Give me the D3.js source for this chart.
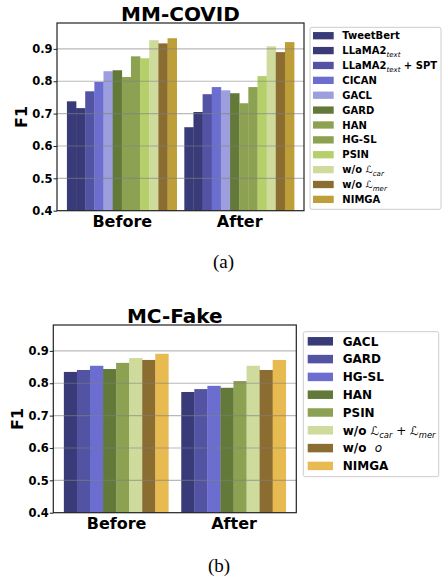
<!DOCTYPE html>
<html><head><meta charset="utf-8">
<script src="https://cdn.jsdelivr.net/npm/d3@7"></script>
<style>
html,body{margin:0;padding:0;background:#fff;}
svg{display:block;font-family:"DejaVu Sans",sans-serif;}
text{white-space:pre;}
</style></head>
<body>
<svg id="chart" width="442" height="580"></svg>
<script>
// ---------- data ----------
const groups = ["Before", "After"];
const yTicks = [0.4, 0.5, 0.6, 0.7, 0.8, 0.9];

// (a) MM-COVID
const mmMethods = ["TweetBert", "LLaMA2$_{text}$", "LLaMA2$_{text}$ + SPT", "CICAN", "GACL", "GARD", "HAN", "HG-SL", "PSIN", "w/o $ℒ_{car}$", "w/o $ℒ_{mer}$", "NIMGA"];
const mmColors = ["#393b79", "#393b79", "#5254a3", "#6b6ecf", "#9c9ede", "#637939", "#8ca252", "#8ca252", "#b5cf6b", "#cedb9c", "#8c6d31", "#bd9e39"];
const mmBefore = [0.738, 0.717, 0.769, 0.798, 0.831, 0.834, 0.813, 0.877, 0.871, 0.927, 0.917, 0.933];
const mmAfter  = [0.658, 0.705, 0.760, 0.782, 0.772, 0.763, 0.732, 0.782, 0.816, 0.908, 0.890, 0.921];

// (b) MC-Fake
const mcMethods = ["GACL", "GARD", "HG-SL", "HAN", "PSIN", "w/o $ℒ_{car} + ℒ_{mer}$", "w/o  $o$", "NIMGA"];
const mcColors = ["#393b79", "#5254a3", "#6b6ecf", "#637939", "#8ca252", "#cedb9c", "#8c6d31", "#e7ba52"];
const mcBefore = [0.835, 0.841, 0.854, 0.844, 0.863, 0.878, 0.872, 0.891];
const mcAfter  = [0.773, 0.782, 0.792, 0.786, 0.807, 0.854, 0.841, 0.872];

// ---------- drawing ----------
const svg = d3.select("#chart");

function parseLabel(label) {
  const out = [];
  label.split("$").forEach((part, i) => {
    if (i % 2 === 0) { if (part) out.push({t: part, kind: "bold"}); }
    else {
      const re = /_\{([^}]*)\}|([^_]+)/g; let m;
      while ((m = re.exec(part))) {
        if (m[1] !== undefined) out.push({t: m[1], kind: "sub"});
        else out.push({t: m[2], kind: "math"});
      }
    }
  });
  return out;
}

function richText(sel, label, fs) {
  const segs = parseLabel(label);
  let shifted = false;
  const sh = fs * 0.3;
  segs.forEach(s => {
    const ts = sel.append("tspan").text(s.t);
    if (s.kind === "bold") { ts.attr("font-weight", "bold"); }
    else if (s.kind === "math") { ts.attr("font-weight", "normal").attr("font-style", "italic"); }
    else { ts.attr("font-weight", "normal").attr("font-style", "italic").attr("font-size", fs * 0.7); }
    if (s.kind === "sub" && !shifted) { ts.attr("dy", sh); shifted = true; }
    else if (s.kind !== "sub" && shifted) { ts.attr("dy", -sh); shifted = false; }
  });
}

function panel(cfg) {
  const g = svg.append("g");
  const y = d3.scaleLinear().domain([0.4, 0.98]).range([cfg.y1, cfg.y0]);
  const x = d3.scaleLinear().domain([-cfg.pad, 1 + cfg.pad]).range([cfg.x0, cfg.x1]);
  const n = cfg.methods.length;
  const band = d3.scaleBand().domain(d3.range(n)).range([-cfg.gw / 2, cfg.gw / 2]);
  const bw = x(band.bandwidth()) - x(0);
  const series = [cfg.before, cfg.after];

  groups.forEach((grp, gi) => {
    g.append("g").selectAll("rect").data(series[gi]).join("rect")
      .attr("x", (d, i) => x(gi + band(i)))
      .attr("width", bw + 0.3)
      .attr("y", d => y(d))
      .attr("height", d => y(0.4) - y(d))
      .attr("fill", (d, i) => cfg.colors[i]);
  });

  // grid on top
  g.append("g").selectAll("line").data(yTicks.slice(1)).join("line")
    .attr("x1", cfg.x0).attr("x2", cfg.x1)
    .attr("y1", d => y(d)).attr("y2", d => y(d))
    .attr("stroke", "#808080").attr("stroke-opacity", 0.55).attr("stroke-width", 1.2);

  // y axis
  const ya = g.append("g").attr("transform", `translate(${cfg.x0},0)`)
    .call(d3.axisLeft(y).tickValues(yTicks).tickFormat(d3.format(".1f")).tickSize(3.5).tickPadding(1));
  ya.select(".domain").remove();
  ya.selectAll(".tick line").attr("stroke", "#222").attr("stroke-width", 1);
  ya.selectAll("text").attr("font-size", 11.5).attr("font-weight", "bold").attr("fill", "#000")
    .attr("font-family", "DejaVu Sans");

  // x axis labels
  const xa = g.append("g").attr("transform", `translate(0,${cfg.y1})`)
    .call(d3.axisBottom(x).tickValues([0, 1]).tickFormat(i => groups[i]).tickSize(0).tickPadding(cfg.xpad));
  xa.select(".domain").remove();
  xa.selectAll("text").attr("font-size", 16).attr("font-weight", "bold").attr("fill", "#000")
    .attr("font-family", "DejaVu Sans");

  // frame
  g.append("rect").attr("x", cfg.x0).attr("y", cfg.y0)
    .attr("width", cfg.x1 - cfg.x0).attr("height", cfg.y1 - cfg.y0)
    .attr("fill", "none").attr("stroke", "#222").attr("stroke-width", 1.2);

  // y label
  g.append("text").attr("transform", `translate(${cfg.ylx},${(cfg.y0 + cfg.y1) / 2}) rotate(-90)`)
    .attr("text-anchor", "middle").attr("dy", "0.35em")
    .attr("font-size", 16).attr("font-weight", "bold").text("F1");

  // title
  g.append("text").attr("x", (cfg.x0 + cfg.x1) / 2).attr("y", cfg.titleY)
    .attr("text-anchor", "middle").attr("font-size", 20).attr("font-weight", "bold").text(cfg.title);

  // legend
  const L = cfg.legend;
  g.append("rect").attr("x", L.x).attr("y", L.y).attr("width", L.w).attr("height", L.h)
    .attr("rx", 2).attr("fill", "#fff").attr("stroke", "#ccc").attr("stroke-width", 1);
  cfg.methods.forEach((m, i) => {
    const cy = L.r0 + i * L.step;
    g.append("rect").attr("x", L.px).attr("y", cy - L.ph / 2).attr("width", L.pw).attr("height", L.ph)
      .attr("fill", cfg.colors[i]);
    const t = g.append("text").attr("x", L.tx).attr("y", cy).attr("dy", "0.36em")
      .attr("font-size", L.fs);
    richText(t, m, L.fs);
  });

  // caption
  svg.append("text").attr("x", cfg.capX).attr("y", cfg.capY).attr("text-anchor", "middle")
    .attr("font-family", "'Liberation Serif', serif").attr("font-size", 19).text(cfg.cap);
}

panel({
  title: "MM-COVID", titleY: 20.5, methods: mmMethods, colors: mmColors, before: mmBefore, after: mmAfter,
  x0: 57, x1: 304, y0: 23, y1: 210.7, pad: 0.552, gw: 0.935, xpad: 5, ylx: 21.5,
  legend: {x: 310, y: 27.3, w: 131, h: 182, r0: 35.7, step: 14.88, px: 313, pw: 20.7, ph: 7.3, tx: 342.3, fs: 10},
  cap: "(a)", capX: 223.5, capY: 268
});
panel({
  title: "MC-Fake", titleY: 322.5, methods: mcMethods, colors: mcColors, before: mcBefore, after: mcAfter,
  x0: 53.3, x1: 296.3, y0: 325, y1: 512.7, pad: 0.535, gw: 0.89, xpad: 5, ylx: 17.5,
  legend: {x: 303.3, y: 331.7, w: 135.4, h: 145, r0: 341.3, step: 17.8, px: 307.7, pw: 25.3, ph: 8.5, tx: 342.7, fs: 12},
  cap: "(b)", capX: 219, capY: 572
});
</script>
</body></html>
